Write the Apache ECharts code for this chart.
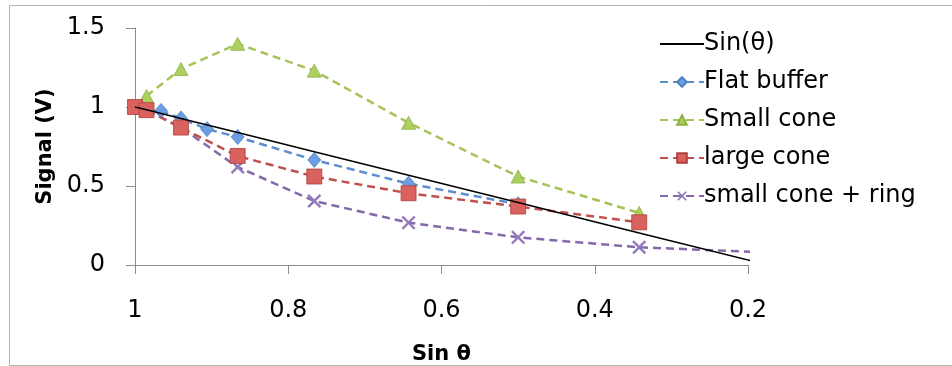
<!DOCTYPE html>
<html>
<head>
<meta charset="utf-8">
<script src="https://cdn.jsdelivr.net/npm/echarts@6/dist/echarts.min.js"></script>
<style>html,body{margin:0;padding:0;background:#fff}#c{width:952px;height:366px}</style>
</head>
<body>
<div id="c"></div>
<script>
// Data
var seriesNames = ['Sin(θ)', 'Flat buffer', 'Small cone', 'large cone', 'small cone + ring'];
var sinX = [1, 0.985, 0.940, 0.866, 0.766, 0.643, 0.5, 0.342, 0.174];
var sinY = [1, 0.982, 0.927, 0.838, 0.717, 0.568, 0.395, 0.203, 0.0];
var flatX = [1, 0.985, 0.966, 0.940, 0.906, 0.866, 0.766, 0.643, 0.5];
var flatY = [1.0, 0.98, 0.975, 0.928, 0.86, 0.81, 0.665, 0.515, 0.385];
var smallX = [0.985, 0.940, 0.866, 0.766, 0.643, 0.5, 0.342];
var smallY = [1.07, 1.24, 1.40, 1.23, 0.90, 0.56, 0.33];
var largeX = [1, 0.985, 0.940, 0.866, 0.766, 0.643, 0.5, 0.342];
var largeY = [1.0, 0.98, 0.87, 0.69, 0.56, 0.454, 0.37, 0.27];
var ringX = [1, 0.985, 0.940, 0.866, 0.766, 0.643, 0.5, 0.342, 0.174];
var ringY = [1.0, 0.98, 0.87, 0.62, 0.405, 0.268, 0.175, 0.112, 0.08];
var xTicks = ['1', '0.8', '0.6', '0.4', '0.2'];
var yTicks = ['0', '0.5', '1', '1.5'];

function pairs(xs, ys) { return xs.map(function (x, i) { return [x, ys[i]]; }); }

var FONT = '"DejaVu Sans", sans-serif';
var xPath = 'path://M0,1.2 L1.2,0 L5,3.8 L8.8,0 L10,1.2 L6.2,5 L10,8.8 L8.8,10 L5,6.2 L1.2,10 L0,8.8 L3.8,5 Z';

var chart = echarts.init(document.getElementById('c'), null, {renderer: 'canvas'});
chart.setOption({
  animation: false,
  backgroundColor: '#fff',
  graphic: [{
    type: 'rect', left: 7, top: 3, z: -1,
    shape: {width: 960, height: 360},
    style: {fill: 'none', stroke: '#b5b5b5', lineWidth: 1}
  }],
  grid: {left: 135, right: 204, top: 28, bottom: 101, containLabel: false, outerBoundsMode: 'none'},
  legend: {
    orient: 'vertical', left: 654, top: 24,
    itemWidth: 44, itemHeight: 12, itemGap: 8,
    textStyle: {fontFamily: FONT, fontSize: 24, color: '#000', lineHeight: 30, padding: [0, 0, 0, -5]},
    data: [
      {name: seriesNames[0], itemStyle: {color: 'rgba(0,0,0,0)', borderWidth: 0, opacity: 0}},
      seriesNames[1], seriesNames[2], seriesNames[3], seriesNames[4]
    ]
  },
  xAxis: {
    type: 'value', inverse: true, min: 0.2, max: 1, interval: 0.2,
    name: 'Sin θ', nameLocation: 'middle', nameGap: 79,
    nameTextStyle: {fontFamily: FONT, fontSize: 21, fontWeight: 'bold', color: '#000'},
    axisLine: {lineStyle: {color: '#8c8c8c', width: 1}},
    axisTick: {show: true, inside: false, length: 9, lineStyle: {color: '#8c8c8c'}},
    axisLabel: {
      margin: 34, fontFamily: FONT, fontSize: 24, color: '#000',
      formatter: function (v) { var i = Math.round((1 - v) / 0.2); return xTicks[i] !== undefined ? xTicks[i] : ''; }
    },
    splitLine: {show: false}
  },
  yAxis: {
    type: 'value', min: 0, max: 1.5, interval: 0.5,
    name: 'Signal (V)', nameLocation: 'middle', nameGap: 74, nameRotate: 90,
    nameTextStyle: {fontFamily: FONT, fontSize: 21, fontWeight: 'bold', color: '#000'},
    axisLine: {show: true, lineStyle: {color: '#8c8c8c', width: 1}},
    axisTick: {show: true, inside: false, length: 9, lineStyle: {color: '#8c8c8c'}},
    axisLabel: {
      margin: 30, fontFamily: FONT, fontSize: 24, color: '#000', padding: [6, 0, 0, 0],
      formatter: function (v) { var i = Math.round(v / 0.5); return yTicks[i] !== undefined ? yTicks[i] : ''; }
    },
    splitLine: {show: false}
  },
  series: [
    {
      name: seriesNames[0], type: 'line', data: pairs(sinX, sinY), symbol: 'none', clip: true,
      lineStyle: {color: '#000', width: 1.5, type: 'solid'}, itemStyle: {color: '#000'}, z: 5
    },
    {
      name: seriesNames[1], type: 'line', data: pairs(flatX, flatY), symbol: 'diamond', symbolSize: [13, 15], clip: true,
      lineStyle: {color: '#5b8fd0', width: 2.5, type: [8, 5]},
      itemStyle: {color: '#6c9fe2', borderColor: '#4f80c0', borderWidth: 0.8}, z: 3
    },
    {
      name: seriesNames[2], type: 'line', data: pairs(smallX, smallY), symbol: 'triangle', symbolSize: [14, 13], clip: true,
      lineStyle: {color: '#a5c457', width: 2.5, type: [8, 5]},
      itemStyle: {color: '#acd060', borderColor: '#8fb045', borderWidth: 0.8}, z: 3
    },
    {
      name: seriesNames[3], type: 'line', data: pairs(largeX, largeY), symbol: 'rect', symbolSize: 15, clip: true,
      lineStyle: {color: '#c0504d', width: 2.5, type: [8, 5]},
      itemStyle: {color: '#d9625f', borderColor: '#b0403d', borderWidth: 0.8}, z: 4
    },
    {
      name: seriesNames[4], type: 'line', data: pairs(ringX, ringY), symbol: xPath, symbolSize: 14, clip: true,
      lineStyle: {color: '#8469aa', width: 2.5, type: [8, 5]},
      itemStyle: {color: '#9279ba'}, z: 2
    }
  ]
});
</script>
</body>
</html>
